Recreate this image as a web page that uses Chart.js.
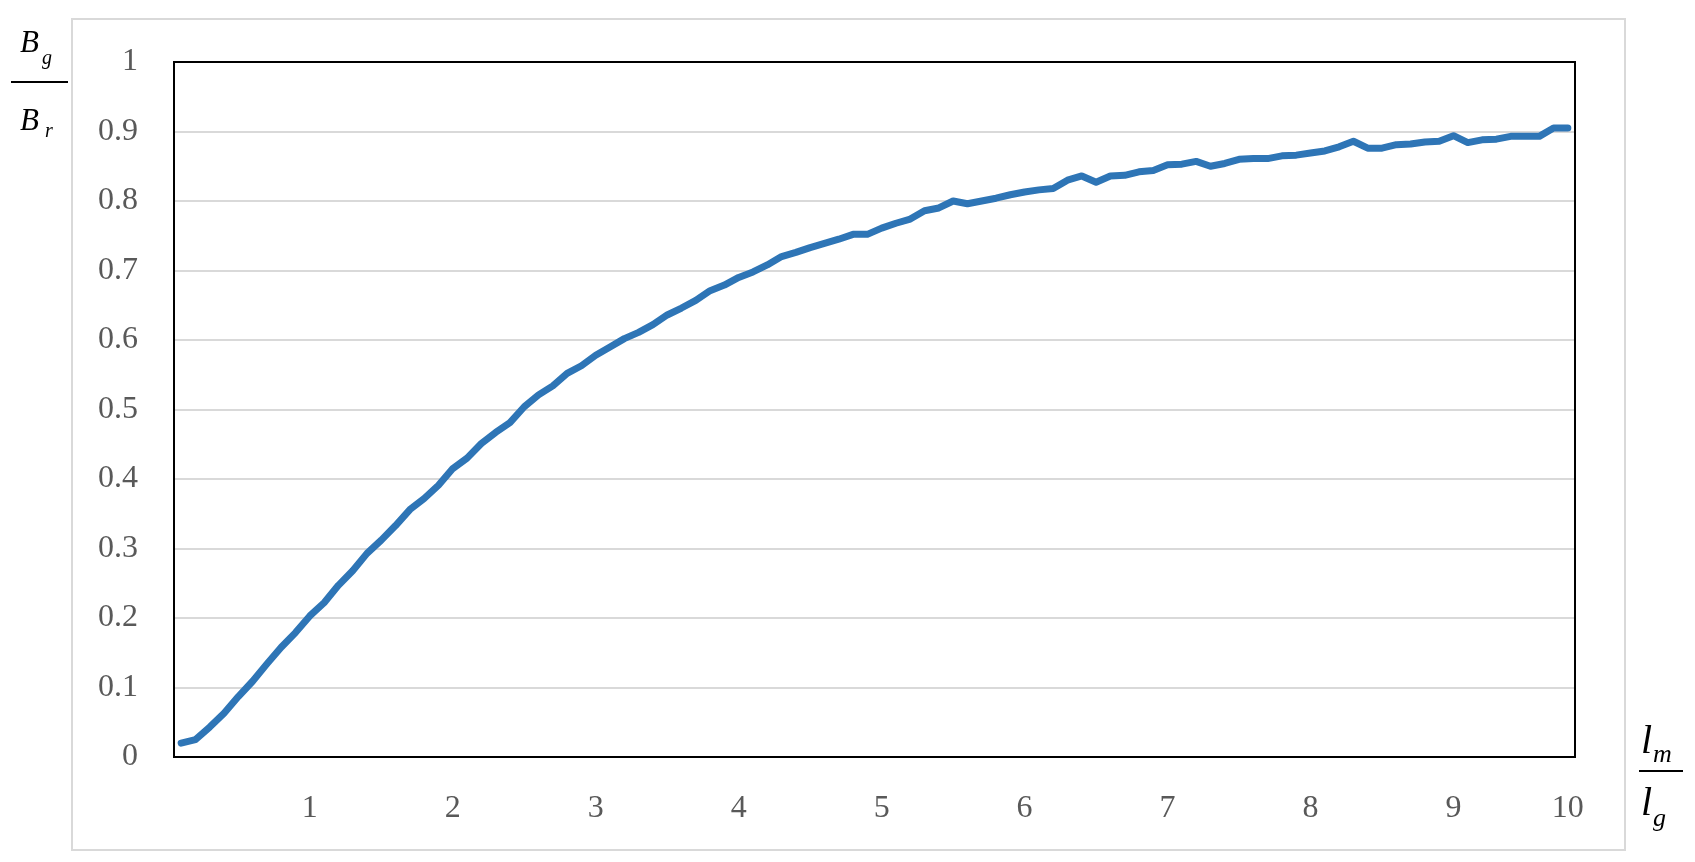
<!DOCTYPE html>
<html>
<head>
<meta charset="utf-8">
<script src="https://cdn.jsdelivr.net/npm/chart.js@4/dist/chart.umd.min.js"></script>
<style>
  html, body { margin: 0; padding: 0; background: #fff; }
  #wrap { width: 1695px; height: 862px; position: relative; }
</style>
</head>
<body>
<div id="wrap"><canvas id="ratioChart" width="1695" height="862"></canvas></div>
<script>
// lm/lg ratio, one category per 0.1 step
const categories = [
  '0.1','0.2','0.3','0.4','0.5','0.6','0.7','0.8','0.9','1.0',
  '1.1','1.2','1.3','1.4','1.5','1.6','1.7','1.8','1.9','2.0',
  '2.1','2.2','2.3','2.4','2.5','2.6','2.7','2.8','2.9','3.0',
  '3.1','3.2','3.3','3.4','3.5','3.6','3.7','3.8','3.9','4.0',
  '4.1','4.2','4.3','4.4','4.5','4.6','4.7','4.8','4.9','5.0',
  '5.1','5.2','5.3','5.4','5.5','5.6','5.7','5.8','5.9','6.0',
  '6.1','6.2','6.3','6.4','6.5','6.6','6.7','6.8','6.9','7.0',
  '7.1','7.2','7.3','7.4','7.5','7.6','7.7','7.8','7.9','8.0',
  '8.1','8.2','8.3','8.4','8.5','8.6','8.7','8.8','8.9','9.0',
  '9.1','9.2','9.3','9.4','9.5','9.6','9.7','9.8'
];

// Bg/Br
const ratioValues = [
  0.020, 0.025, 0.043, 0.063, 0.087, 0.109, 0.134, 0.158, 0.179, 0.203,
  0.222, 0.247, 0.268, 0.293, 0.312, 0.333, 0.356, 0.372, 0.391, 0.415,
  0.430, 0.451, 0.467, 0.481, 0.504, 0.521, 0.534, 0.552, 0.563, 0.578,
  0.590, 0.602, 0.611, 0.622, 0.636, 0.646, 0.657, 0.671, 0.679, 0.690,
  0.698, 0.708, 0.720, 0.726, 0.733, 0.739, 0.745, 0.752, 0.752, 0.761,
  0.768, 0.774, 0.786, 0.790, 0.800, 0.796, 0.800, 0.804, 0.809, 0.813,
  0.816, 0.818, 0.830, 0.836, 0.827, 0.836, 0.837, 0.842, 0.844, 0.852,
  0.853, 0.857, 0.850, 0.854, 0.860, 0.861, 0.861, 0.865, 0.866, 0.869,
  0.872, 0.878, 0.886, 0.876, 0.876, 0.881, 0.882, 0.885, 0.886, 0.894,
  0.884, 0.888, 0.889, 0.893, 0.893, 0.893, 0.905, 0.905
];

// which categories carry an x label
const tickIndex = [9, 19, 29, 39, 49, 59, 69, 79, 89, 97];
const tickLabels = ['1', '2', '3', '4', '5', '6', '7', '8', '9', '10'];

const SERIF = '"Liberation Serif", "DejaVu Serif", serif';
const GRAY_TEXT = '#595959';

// frame, plot border and the two fraction titles
const decorations = {
    id: 'decorations',
    beforeDatasetsDraw(chart) {
        const { ctx, chartArea: a } = chart;
        ctx.save();
        ctx.strokeStyle = '#000';
        ctx.lineWidth = 2;
        ctx.strokeRect(a.left, a.top, a.right - a.left, a.bottom - a.top);
        ctx.restore();
    },
    afterDraw(chart) {
        const ctx = chart.ctx;
        ctx.save();
        ctx.strokeStyle = '#d9d9d9';
        ctx.lineWidth = 2;
        ctx.strokeRect(72, 19, 1553, 831);

        ctx.fillStyle = '#000';
        ctx.strokeStyle = '#000';
        ctx.textBaseline = 'alphabetic';
        ctx.textAlign = 'left';

        // Bg / Br
        ctx.font = 'italic 31px ' + SERIF;
        ctx.fillText('B', 20, 52);
        ctx.fillText('B', 20, 130);
        ctx.font = 'italic 20px ' + SERIF;
        ctx.fillText('g', 42, 64);
        ctx.fillText('r', 45, 137);
        ctx.lineWidth = 2;
        ctx.beginPath();
        ctx.moveTo(11, 82);
        ctx.lineTo(68, 82);
        ctx.stroke();

        // lm / lg
        ctx.font = 'italic 40px ' + SERIF;
        ctx.fillText('l', 1641, 753);
        ctx.fillText('l', 1641, 815);
        ctx.font = 'italic 26px ' + SERIF;
        ctx.fillText('m', 1653, 762);
        ctx.fillText('g', 1653, 826);
        ctx.beginPath();
        ctx.moveTo(1639, 771);
        ctx.lineTo(1683, 771);
        ctx.stroke();
        ctx.restore();
    }
};

const ctx = document.getElementById('ratioChart').getContext('2d');
new Chart(ctx, {
    type: 'line',
    data: {
        labels: categories,
        datasets: [{
            data: ratioValues,
            borderColor: '#2e75b6',
            borderWidth: 7,
            borderCapStyle: 'round',
            borderJoinStyle: 'round',
            pointRadius: 0,
            tension: 0,
            fill: false
        }]
    },
    options: {
        responsive: false,
        animation: false,
        events: [],
        layout: { padding: { left: 0, top: 62, right: 120, bottom: 0 } },
        plugins: {
            legend: { display: false },
            tooltip: { enabled: false }
        },
        scales: {
            x: {
                type: 'category',
                offset: true,
                grid: { display: false, drawTicks: false },
                border: { display: false },
                ticks: {
                    autoSkip: false,
                    maxRotation: 0,
                    padding: 32,
                    color: GRAY_TEXT,
                    font: { family: SERIF, size: 32 },
                    callback: (v, i) => {
                        const k = tickIndex.indexOf(i);
                        return k >= 0 ? tickLabels[k] : '';
                    }
                },
                afterFit: s => { s.height = 105; }
            },
            y: {
                min: 0,
                max: 1,
                grid: { color: '#d9d9d9', lineWidth: 2, drawTicks: false },
                border: { display: false },
                ticks: {
                    stepSize: 0.1,
                    padding: 36,
                    color: GRAY_TEXT,
                    font: { family: SERIF, size: 32 },
                    callback: v => String(+v.toFixed(1))
                },
                afterFit: s => { s.width = 174; }
            }
        }
    },
    plugins: [decorations]
});
</script>
</body>
</html>
